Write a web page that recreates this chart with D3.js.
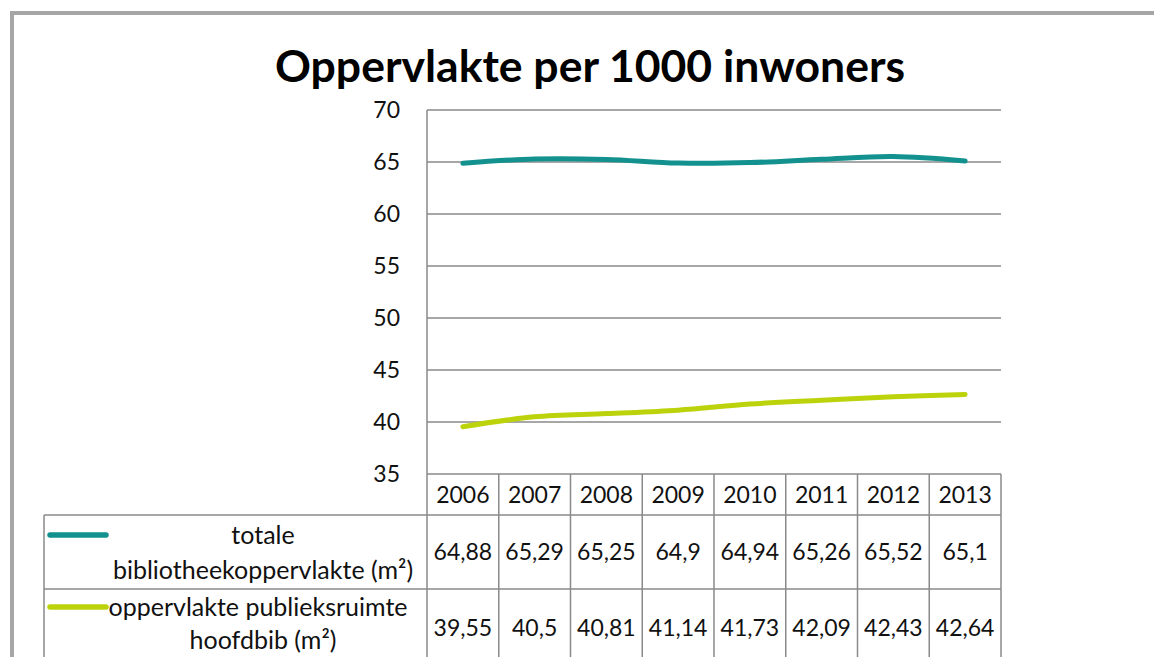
<!DOCTYPE html>
<html><head><meta charset="utf-8">
<script src="https://cdn.jsdelivr.net/npm/d3@7"></script>
<style>html,body{margin:0;padding:0;background:#fff;overflow:hidden}</style>
</head><body><svg id="c" width="1154" height="657"></svg>
<script>
const title = "Oppervlakte per 1000 inwoners";
const years = ["2006","2007","2008","2009","2010","2011","2012","2013"];
const totaal = [64.88,65.29,65.25,64.9,64.94,65.26,65.52,65.1];
const publiek = [39.55,40.5,40.81,41.14,41.73,42.09,42.43,42.64];
const seriesNames = [["totale","bibliotheekoppervlakte (m²)"],["oppervlakte publieksruimte","hoofdbib (m²)"]];
const yTicks = [35,40,45,50,55,60,65,70];
const colors = ["#12918E","#BCD30C"];

const svg = d3.select("#c");
const font = "Lato, 'Open Sans', sans-serif";
const grid = "#8a8a8a";

// outer frame
svg.append("rect").attr("x",12).attr("y",13).attr("width",1160).attr("height",670)
  .attr("fill","none").attr("stroke","#a6a6a6").attr("stroke-width",4);

svg.append("text").attr("x",590).attr("y",82).attr("text-anchor","middle")
  .attr("font-family",font).attr("font-weight","bold").attr("font-size",43)
  .attr("textLength",630).attr("lengthAdjust","spacingAndGlyphs").text(title);

const L=427,R=1001,T=110,B=474;
const x = d3.scaleBand().domain(years).range([L,R]);
const y = d3.scaleLinear().domain([35,70]).range([B,T]);

// gridlines
svg.append("g").selectAll("line").data(yTicks).join("line")
  .attr("x1",L).attr("x2",R).attr("y1",d=>y(d)).attr("y2",d=>y(d))
  .attr("stroke",grid).attr("stroke-width",1.5);
svg.append("line").attr("x1",L).attr("x2",L).attr("y1",T).attr("y2",B).attr("stroke",grid).attr("stroke-width",1.5);

svg.append("g").selectAll("text").data(yTicks).join("text")
  .attr("x",400).attr("y",d=>y(d)).attr("dy","0.36em").attr("text-anchor","end")
  .attr("font-family",font).attr("font-size",23).attr("fill","#111").text(d=>d);

// lines
const line = d3.line().x((d,i)=>x(years[i])+x.bandwidth()/2).y(d=>y(d)).curve(d3.curveCatmullRom.alpha(0.5));
[totaal,publiek].forEach((s,k)=>{
  svg.append("path").attr("d",line(s)).attr("fill","none").attr("stroke",colors[k])
    .attr("stroke-width",5).attr("stroke-linecap","round").attr("stroke-linejoin","round");
});

// table
const TL=44, H1=515, H2=589, H3=663;
const tg = svg.append("g").attr("stroke",grid).attr("stroke-width",1.5);
[H1,H2].forEach(h=>tg.append("line").attr("x1",TL).attr("x2",R).attr("y1",h).attr("y2",h));
tg.append("line").attr("x1",TL).attr("x2",TL).attr("y1",H1).attr("y2",H3);
years.forEach(yr=>tg.append("line").attr("x1",x(yr)).attr("x2",x(yr)).attr("y1",B).attr("y2",H3));
tg.append("line").attr("x1",R).attr("x2",R).attr("y1",B).attr("y2",H3);

const fmt = v => String(v).replace(".",",");
svg.append("g").selectAll("text").data(years).join("text")
  .attr("x",d=>x(d)+x.bandwidth()/2).attr("y",495).attr("dy","0.36em").attr("text-anchor","middle")
  .attr("font-family",font).attr("font-size",23).attr("fill","#111").text(d=>d);
[[totaal,552],[publiek,628]].forEach(([s,yy])=>{
  svg.append("g").selectAll("text").data(s).join("text")
    .attr("x",(d,i)=>x(years[i])+x.bandwidth()/2).attr("y",yy).attr("dy","0.36em").attr("text-anchor","middle")
    .attr("font-family",font).attr("font-size",23).attr("fill","#111").text(fmt);
});

// legend
[[535,570],[607,640]].forEach((ys,k)=>{
  svg.append("line").attr("x1",50).attr("x2",106).attr("y1",ys[0]).attr("y2",ys[0])
    .attr("stroke",colors[k]).attr("stroke-width",5.5).attr("stroke-linecap","round");
  seriesNames[k].forEach((t,j)=>{
    svg.append("text").attr("x",k===1&&j===0?258:263).attr("y",ys[j]).attr("dy","0.36em").attr("text-anchor","middle")
      .attr("font-family",font).attr("font-size",25).attr("fill","#111").text(t);
  });
});
</script></body></html>
